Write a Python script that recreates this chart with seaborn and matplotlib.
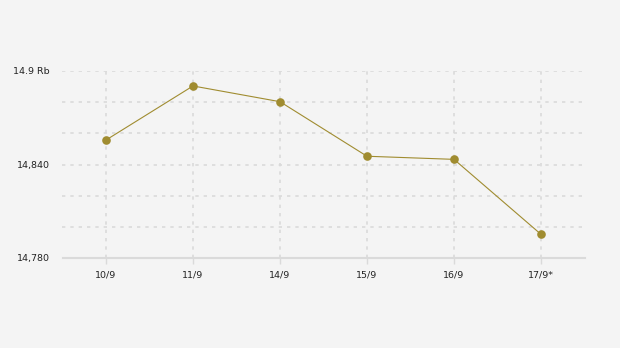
import matplotlib
matplotlib.use("Agg")
import matplotlib.pyplot as plt
import seaborn as sns
import pandas as pd

dates = ["10/9", "11/9", "14/9", "15/9", "16/9", "17/9*"]
values = [14855.7, 14890.4, 14880.3, 14845.3, 14843.3, 14795.2]
ytick_values = [14780, 14800, 14820, 14840, 14860, 14880, 14900]
ytick_labels = ["14,780", "", "", "14,840", "", "", "14.9 Rb"]

sns.set_theme(style="white")
plt.rcParams['font.family'] = ['DejaVu Sans']

bg = "#f4f4f4"
line_color = "#a08c30"
grid_color = "#dadada"

fig = plt.figure(figsize=(6.2, 3.48), dpi=100)
fig.patch.set_facecolor(bg)
ax = fig.add_axes([62.5/620, 1-258/348, 522/620, 187/348])
ax.set_facecolor(bg)

df = pd.DataFrame({"date": dates, "value": values})
df["pos"] = range(len(dates))
sns.lineplot(data=df, x="pos", y="value", ax=ax, color=line_color, linewidth=0.8,
             marker="o", markersize=6.2, markeredgewidth=0, zorder=3)

ax.set_xlim(-0.5, len(dates) - 0.5)
ax.set_ylim(14780, 14900)
ax.set_xticks(range(len(dates)))
ax.set_xticklabels(dates, fontsize=6.8, color="#222222")
ax.set_yticks(ytick_values)
ax.set_yticklabels(ytick_labels, fontsize=6.8, color="#222222")
ax.set_xlabel("")
ax.set_ylabel("")

for v in ytick_values[1:]:
    ax.axhline(v, color=grid_color, linestyle=(0, (2, 3)), linewidth=1.2, zorder=1)
for i in range(len(dates)):
    ax.axvline(i, color=grid_color, linestyle=(0, (2, 3)), linewidth=1.2, zorder=1)

for s in ["top", "right", "left"]:
    ax.spines[s].set_visible(False)
ax.spines["bottom"].set_color(grid_color)
ax.spines["bottom"].set_linewidth(1.5)

ax.tick_params(axis="y", length=0, pad=9)
ax.tick_params(axis="x", length=4, width=1, color=grid_color, pad=5, direction="out", bottom=True)

fig.savefig("out.png", dpi=100, facecolor=bg)
